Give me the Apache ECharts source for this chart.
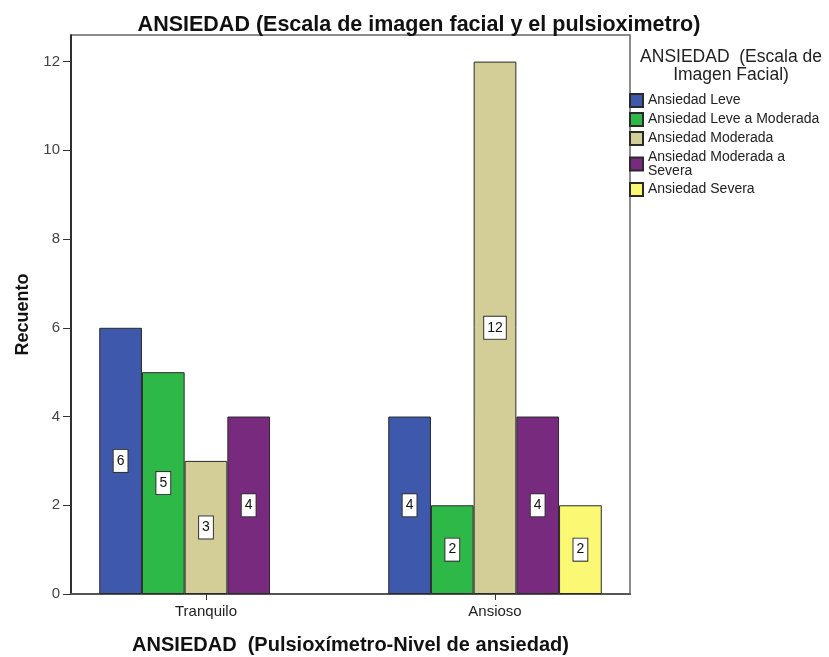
<!DOCTYPE html>
<html><head><meta charset="utf-8">
<script src="https://cdn.jsdelivr.net/npm/echarts@6/dist/echarts.min.js"></script>
<style>html,body{margin:0;padding:0;background:#fff}#c{width:829px;height:657px}</style>
</head><body><div id="c"></div>
<script>
var categories = ['Tranquilo', 'Ansioso'];
var seriesNames = ['Ansiedad Leve', 'Ansiedad Leve a Moderada', 'Ansiedad Moderada', 'Ansiedad Moderada a Severa', 'Ansiedad Severa'];
var leve = [6, 4];
var leveModerada = [5, 2];
var moderada = [3, 12];
var moderadaSevera = [4, 4];
var severa = [null, 2];
var yTicks = [0, 2, 4, 6, 8, 10, 12];
var colors = ['#3E58AC', '#2EB848', '#D3CE97', '#782A7E', '#FBF873'];
var values = [leve, leveModerada, moderada, moderadaSevera, severa];

var FONT = '"Liberation Sans", Arial, sans-serif';
var chart = echarts.init(document.getElementById('c'), null, {renderer: 'canvas'});

var series = seriesNames.map(function (n, i) {
  return {
    name: n, type: 'bar', xAxisIndex: 1, yAxisIndex: 1,
    data: values[i], barWidth: 42.7, barGap: '0%',
    itemStyle: {color: colors[i], borderColor: '#2a2a2a', borderWidth: 1},
    label: {
      show: true, position: 'inside', color: '#111', fontFamily: FONT, fontSize: 14,
      backgroundColor: '#fff', borderColor: '#333', borderWidth: 1, padding: [4, 3],
      formatter: function (p) { return p.value == null ? '' : String(p.value); }
    }
  };
});

chart.setOption({
  animation: false,
  title: [
    {text: 'ANSIEDAD (Escala de imagen facial y el pulsioximetro)', left: 414, top: 9, textAlign: 'center',
     textStyle: {fontFamily: FONT, fontSize: 21.5, fontWeight: 'bold', color: '#111'}},
    {text: 'ANSIEDAD  (Escala de\nImagen Facial)', left: 726, top: 43, textAlign: 'center',
     textStyle: {fontFamily: FONT, fontSize: 17.5, fontWeight: 'normal', color: '#222', lineHeight: 18}}
  ],
  legend: {
    orient: 'vertical', left: 629, top: 93, padding: 0, itemWidth: 13, itemHeight: 13, itemGap: 4,
    icon: 'rect', data: seriesNames,
    textStyle: {fontFamily: FONT, fontSize: 14, color: '#222', lineHeight: 14},
    formatter: function (n) { return n === 'Ansiedad Moderada a Severa' ? 'Ansiedad Moderada a\nSevera' : n; }
  },
  grid: [
    {left: 71, right: 199, top: 35, bottom: 63, containLabel: false, outerBoundsMode: 'none',
     show: true, borderColor: '#666', borderWidth: 1.5, backgroundColor: 'transparent'},
    {left: 61.5, right: 189.5, top: 35, bottom: 63, containLabel: false, outerBoundsMode: 'none'}
  ],
  xAxis: [
    {type: 'category', gridIndex: 0, data: categories,
     axisLine: {show: true, lineStyle: {color: '#555', width: 2}}, axisTick: {show: false}, axisLabel: {show: false},
     name: 'ANSIEDAD  (Pulsioxímetro-Nivel de ansiedad)', nameLocation: 'middle', nameGap: 41,
     nameTextStyle: {fontFamily: FONT, fontSize: 20, fontWeight: 'bold', color: '#111'}},
    {type: 'category', gridIndex: 1, data: categories,
     axisLine: {show: false}, axisTick: {show: true, alignWithLabel: true, length: 6, lineStyle: {color: '#333'}},
     axisLabel: {fontFamily: FONT, fontSize: 15, color: '#222', margin: 10}}
  ],
  yAxis: [
    {type: 'value', gridIndex: 0, min: 0, max: 12.6, interval: 2,
     axisLine: {show: true, lineStyle: {color: '#111', width: 1.5}},
     axisTick: {show: true, length: 8, customValues: yTicks, lineStyle: {color: '#333'}},
     splitLine: {show: false},
     axisLabel: {fontFamily: FONT, fontSize: 15, color: '#444', margin: 11, customValues: yTicks,
       formatter: function (v) { return yTicks.indexOf(v) >= 0 ? String(v) : ''; }},
     name: 'Recuento', nameLocation: 'middle', nameGap: 39,
     nameTextStyle: {fontFamily: FONT, fontSize: 18, fontWeight: 'bold', color: '#111'}},
    {type: 'value', gridIndex: 1, min: 0, max: 12.6, interval: 2, show: false}
  ],
  series: series
});
</script></body></html>
